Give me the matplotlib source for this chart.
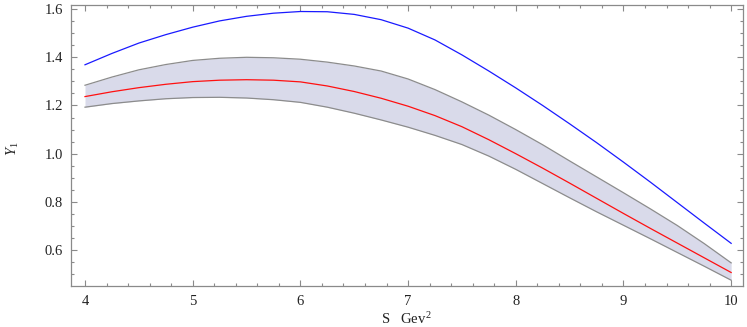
import matplotlib
matplotlib.use("Agg")
import matplotlib.pyplot as plt
from matplotlib.ticker import MultipleLocator

s_values = [4.0, 4.25, 4.5, 4.75, 5.0, 5.25, 5.5, 5.75, 6.0, 6.25, 6.5, 6.75, 7.0,
            7.25, 7.5, 7.75, 8.0, 8.25, 8.5, 8.75, 9.0, 9.25, 9.5, 9.75, 10.0]

blue_curve = [1.369, 1.416, 1.459, 1.494, 1.525, 1.551, 1.570, 1.583, 1.590, 1.589,
              1.578, 1.556, 1.521, 1.472, 1.410, 1.343, 1.273, 1.200, 1.124, 1.046,
              0.965, 0.882, 0.797, 0.712, 0.628]

red_central = [1.237, 1.257, 1.274, 1.288, 1.299, 1.305, 1.307, 1.305, 1.298, 1.281,
               1.258, 1.230, 1.197, 1.158, 1.112, 1.058, 1.000, 0.940, 0.878, 0.815,
               0.752, 0.690, 0.629, 0.568, 0.507]

band_upper = [1.284, 1.318, 1.348, 1.370, 1.387, 1.396, 1.400, 1.398, 1.392, 1.380,
              1.364, 1.343, 1.310, 1.266, 1.215, 1.160, 1.100, 1.037, 0.970, 0.904,
              0.838, 0.771, 0.702, 0.627, 0.547]

band_lower = [1.193, 1.208, 1.219, 1.228, 1.233, 1.234, 1.231, 1.224, 1.213, 1.193,
              1.168, 1.140, 1.110, 1.076, 1.038, 0.990, 0.935, 0.876, 0.817, 0.759,
              0.703, 0.647, 0.590, 0.533, 0.475]

x_ticks = [4, 5, 6, 7, 8, 9, 10]
y_ticks = [0.6, 0.8, 1.0, 1.2, 1.4, 1.6]
y_tick_labels = ["0.6", "0.8", "1.0", "1.2", "1.4", "1.6"]

plt.rcParams['font.family'] = ['Liberation Serif', 'DejaVu Serif']
plt.rcParams['mathtext.fontset'] = 'custom'
plt.rcParams['mathtext.rm'] = 'Liberation Serif'
plt.rcParams['mathtext.it'] = 'Liberation Serif:italic'

fig = plt.figure(figsize=(7.47, 3.27), dpi=100)
ax = fig.add_axes([71/747, 1 - 286/327, (743 - 71)/747, (286 - 5)/327])

frame_col = '#8a8a8a'
ax.fill_between(s_values, band_lower, band_upper, color='#d9daea', linewidth=0, zorder=1)
ax.plot(s_values, band_upper, color='#8c8c8c', linewidth=0.9, zorder=2)
ax.plot(s_values, band_lower, color='#8c8c8c', linewidth=0.9, zorder=2)
ax.plot(s_values, red_central, color='#ff1010', linewidth=0.9, zorder=3)
ax.plot(s_values, blue_curve, color='#1a1aff', linewidth=0.9, zorder=3)

ax.set_xlim(3.87, 10.11)
ax.set_ylim(0.451, 1.617)

ax.set_xticks(x_ticks)
ax.set_xticklabels([str(t) for t in x_ticks])
ax.set_yticks(y_ticks)
ax.set_yticklabels(y_tick_labels)
ax.xaxis.set_minor_locator(MultipleLocator(0.2))
ax.yaxis.set_minor_locator(MultipleLocator(0.05))

ax.tick_params(which='both', direction='in', top=True, right=True,
               color=frame_col, width=0.8, labelsize=10.5, labelcolor='#222222')
ax.tick_params(which='major', length=4.2)
ax.tick_params(axis='x', which='major', pad=6.5)
ax.tick_params(axis='y', which='major', pad=6)
ax.tick_params(which='minor', length=2.2)
for sp in ax.spines.values():
    sp.set_color(frame_col)
    sp.set_linewidth(0.9)

fig.text(407/747, 1 - 319/327, r'S   Gev$^{\,2}$', ha='center', va='center',
         fontsize=10.5, color='#222222')
fig.text(13/747, 1 - 149/327, r'$Y_{1}$', ha='center', va='center', rotation=90,
         fontsize=10.5, color='#222222')

fig.savefig('out.png', dpi=100)
